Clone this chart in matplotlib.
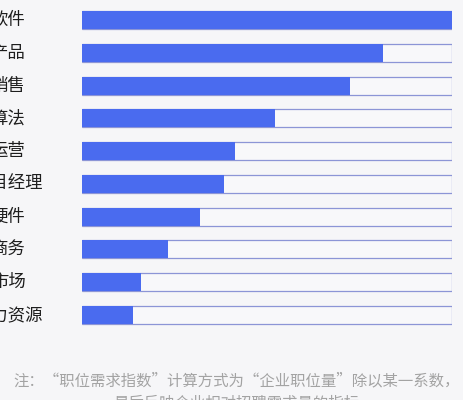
import matplotlib.pyplot as plt

plt.rcParams['font.family'] = ['Noto Sans CJK SC', 'DejaVu Sans']

# job categories and their demand index (top to bottom)
jobs = ['软件', '产品', '销售', '算法', '运营', '项目经理', '硬件', '商务', '市场', '人力资源']
index = [100, 81.4, 72.4, 52.2, 41.4, 38.4, 32.0, 23.2, 16.0, 13.8]
full = 100

note_lines = ['注：“职位需求指数”计算方式为“企业职位量”除以某一系数，',
              '最后反映企业相对招聘需求量的指标']

bg = '#f6f6f8'
blue = '#4a6bef'

fig = plt.figure(figsize=(4.64, 4.0), dpi=100, facecolor=bg)
ax = fig.add_axes([82 / 464, 0.1715, 370 / 464, 0.8195])
ax.set_facecolor(bg)

pos = list(range(len(jobs)))
ax.barh(pos, [full] * len(jobs), height=0.55, color='#f8f8fa',
        edgecolor='#8c95d6', linewidth=0.9)
ax.barh(pos, index, height=0.55, color=blue, linewidth=0)

for i, name in enumerate(jobs):
    ax.text(-20, i, name, ha='center', va='center', fontsize=12.5,
            color='#1e1e1e', clip_on=False)

ax.set_xlim(0, full)
ax.set_ylim(len(jobs) - 0.5, -0.5)
ax.axis('off')

# footnote, second line runs off the bottom edge like the original
for k, line in enumerate(note_lines):
    fig.text(0.509, 0.0475 - k * 0.056, line, ha='center', va='center',
             fontsize=11.1, color='#a3a3a3')

fig.savefig('out.png', dpi=100, facecolor=bg)
